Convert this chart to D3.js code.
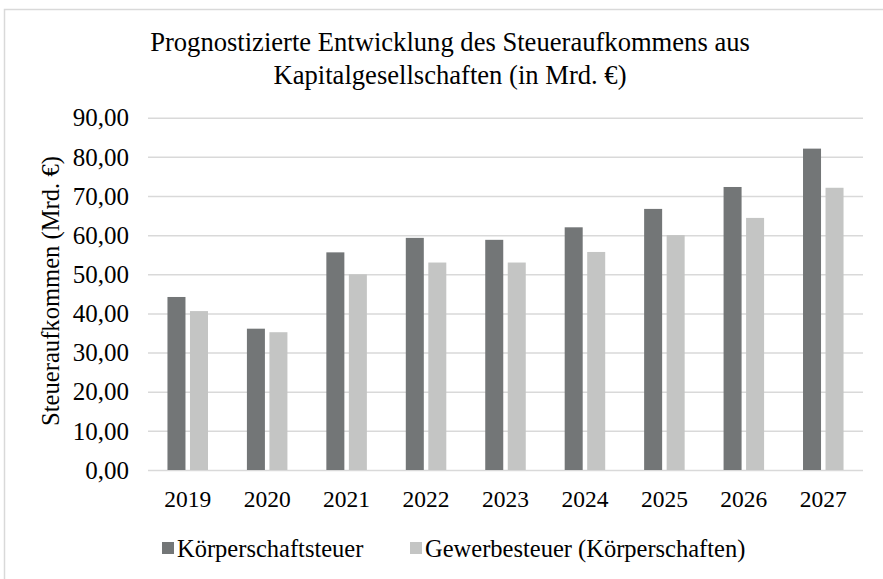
<!DOCTYPE html>
<html>
<head>
<meta charset="utf-8">
<script src="https://cdn.jsdelivr.net/npm/d3@7"></script>
<style>
  body { margin: 0; background: #fff; }
  text { font-family: "Liberation Serif", "Times New Roman", serif; fill: #000; }
</style>
</head>
<body>
<div id="chart"></div>
<script>
const years = ["2019", "2020", "2021", "2022", "2023", "2024", "2025", "2026", "2027"];
const seriesNames = ["Körperschaftsteuer", "Gewerbesteuer (Körperschaften)"];
const koerperschaftsteuer = [44.2, 36.1, 55.6, 59.3, 58.8, 62.0, 66.7, 72.3, 82.1];
const gewerbesteuer = [40.6, 35.2, 50.0, 53.0, 53.0, 55.7, 60.0, 64.4, 72.1];
const yTicks = [0, 10, 20, 30, 40, 50, 60, 70, 80, 90];
const colors = ["#737677", "#c4c5c4"];

let w = 883, h = 579;
let plotLeft = 148, plotRight = 863, plotTop = 117.7, plotBottom = 470;

const svg = d3.select("#chart")
  .append("svg")
  .attr("width", w)
  .attr("height", h);

// outer frame
svg.append("rect")
  .attr("x", 4.5).attr("y", 9.5)
  .attr("width", 890).attr("height", 600)
  .attr("fill", "none")
  .attr("stroke", "#d9d9d9")
  .attr("stroke-width", 1.5);

const x0 = d3.scaleBand()
  .domain(years)
  .range([plotLeft, plotRight])
  .paddingInner(0.49)
  .paddingOuter(0.245);

const x1 = d3.scaleBand()
  .domain(seriesNames)
  .range([0, x0.bandwidth()])
  .paddingInner(0.2);

const y = d3.scaleLinear()
  .domain([0, 90])
  .range([plotBottom, plotTop]);

const fmt = v => d3.format(".2f")(v).replace(".", ",");

// grid lines
svg.append("g")
  .attr("transform", "translate(" + plotLeft + ",0)")
  .call(d3.axisLeft(y).tickValues(yTicks).tickSize(-(plotRight - plotLeft)).tickFormat(""))
  .call(g => g.select(".domain").remove())
  .call(g => g.selectAll("line").attr("stroke", "#d9d9d9").attr("stroke-width", 1.5));

// y labels
svg.append("g")
  .attr("transform", "translate(" + (plotLeft - 19) + ",0)")
  .call(d3.axisLeft(y).tickValues(yTicks).tickSize(0).tickPadding(0).tickFormat(fmt))
  .call(g => g.select(".domain").remove())
  .call(g => g.selectAll("text").style("font-size", "25px").attr("dy", "0.33em"));

const rows = years.map((yr, i) => ({ year: yr, values: [koerperschaftsteuer[i], gewerbesteuer[i]] }));

const groups = svg.selectAll("g.year")
  .data(rows)
  .enter()
  .append("g")
  .attr("class", "year")
  .attr("transform", d => "translate(" + x0(d.year) + ",0)");

groups.selectAll("rect")
  .data(d => d.values.map((v, i) => ({ name: seriesNames[i], value: v, i: i })))
  .enter()
  .append("rect")
  .attr("x", d => x1(d.name))
  .attr("y", d => y(d.value))
  .attr("width", x1.bandwidth())
  .attr("height", d => y(0) - y(d.value))
  .attr("fill", d => colors[d.i]);

// x axis labels
svg.append("g")
  .attr("transform", "translate(0," + plotBottom + ")")
  .call(d3.axisBottom(x0).tickSize(0).tickPadding(20))
  .call(g => g.select(".domain").remove())
  .call(g => g.selectAll("text").style("font-size", "23.5px").attr("dy", "0.71em"));

// y axis title
svg.append("text")
  .attr("transform", "translate(59,291) rotate(-90)")
  .attr("text-anchor", "middle")
  .style("font-size", "24.6px")
  .text("Steueraufkommen (Mrd. €)");

// title
svg.append("text")
  .attr("x", 450).attr("y", 51)
  .attr("text-anchor", "middle")
  .style("font-size", "26.6px")
  .text("Prognostizierte Entwicklung des Steueraufkommens aus");
svg.append("text")
  .attr("x", 450).attr("y", 84)
  .attr("text-anchor", "middle")
  .style("font-size", "26.6px")
  .text("Kapitalgesellschaften (in Mrd. €)");

// legend
let legendX = [162, 410];
let legend = svg.append("g").attr("class", "legend");
legend.selectAll("rect")
  .data(seriesNames)
  .enter()
  .append("rect")
  .attr("x", (d, i) => legendX[i])
  .attr("y", 542)
  .attr("width", 12)
  .attr("height", 12)
  .attr("fill", (d, i) => colors[i]);
legend.selectAll("text")
  .data(seriesNames)
  .enter()
  .append("text")
  .attr("x", (d, i) => legendX[i] + 15)
  .attr("y", 556.5)
  .style("font-size", "24.5px")
  .text(d => d);
</script>
</body>
</html>
